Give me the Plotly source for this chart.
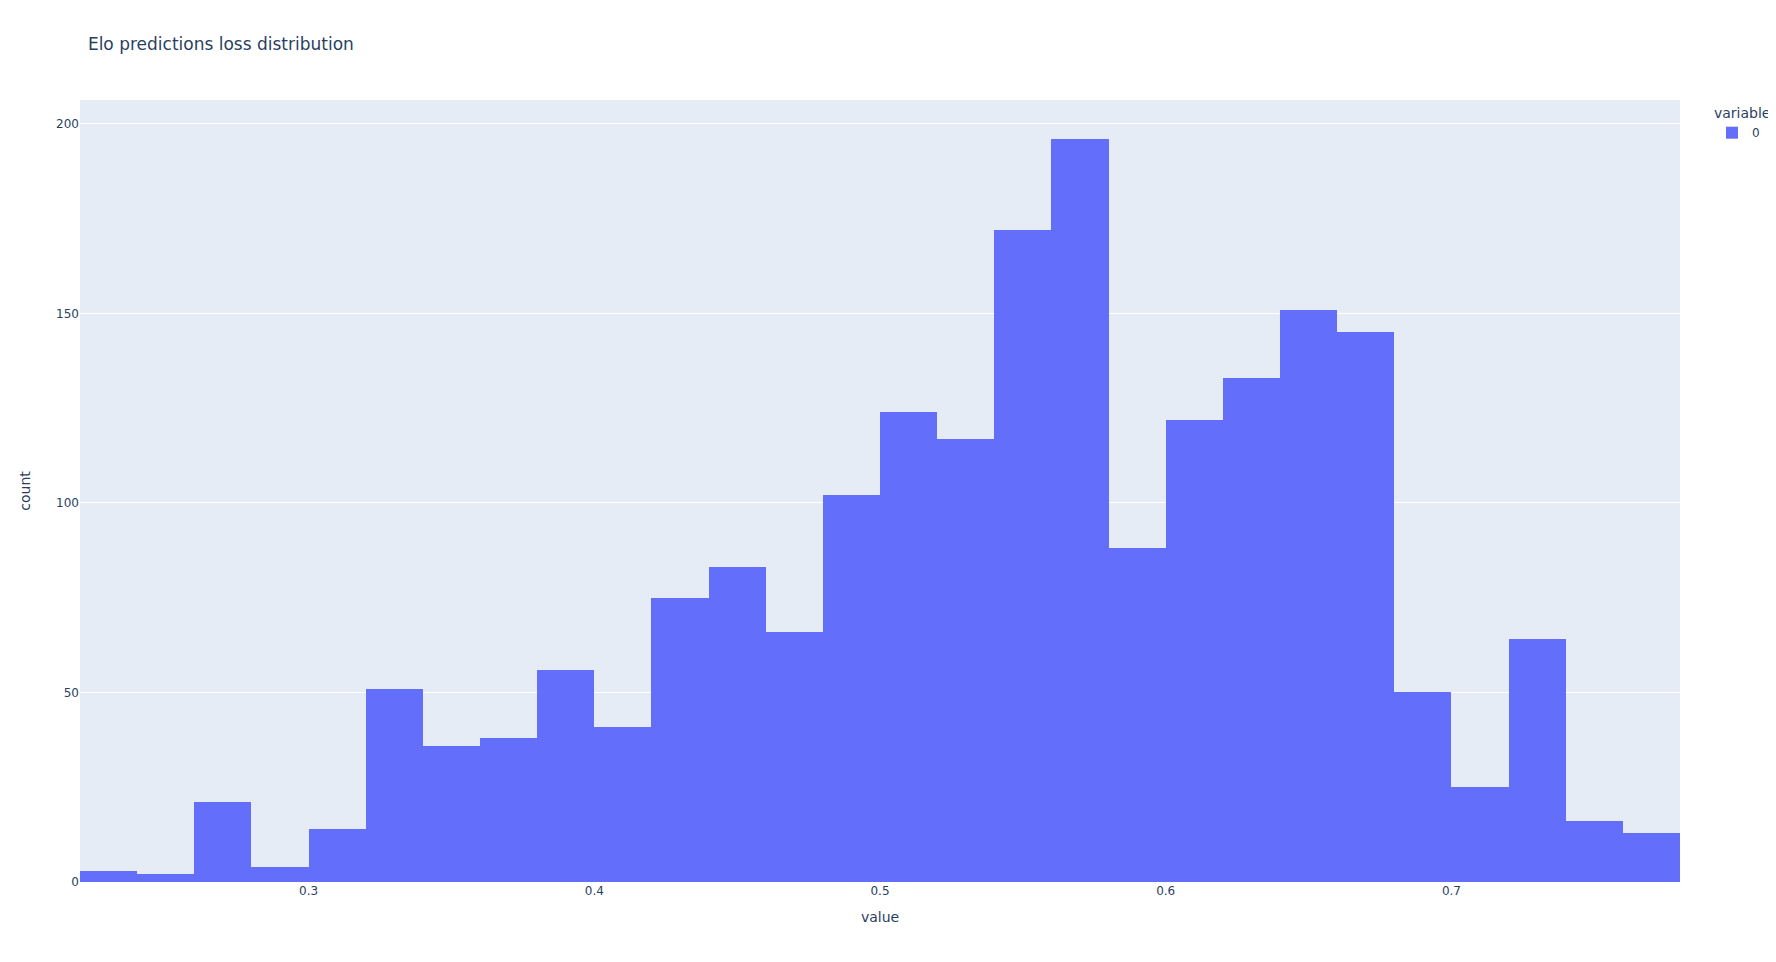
import plotly.graph_objects as go

bin_starts = [0.22, 0.24, 0.26, 0.28, 0.30, 0.32, 0.34, 0.36, 0.38, 0.40,
              0.42, 0.44, 0.46, 0.48, 0.50, 0.52, 0.54, 0.56, 0.58, 0.60,
              0.62, 0.64, 0.66, 0.68, 0.70, 0.72, 0.74, 0.76]
counts = [3, 2, 21, 4, 14, 51, 36, 38, 56, 41,
          75, 83, 66, 102, 124, 117, 172, 196, 88, 122,
          133, 151, 145, 50, 25, 64, 16, 13]
bin_width = 0.02

fig = go.Figure()
fig.add_trace(go.Bar(
    x=bin_starts, y=counts, width=[bin_width] * len(counts), offset=0,
    name="0", legendgroup="0", showlegend=True,
    marker=dict(color="#636efa", line=dict(width=0)),
))
fig.update_layout(
    template="plotly",
    width=1776, height=962,
    margin=dict(l=72, r=104, t=92, b=88, autoexpand=False),
    font=dict(family="DejaVu Sans"),
    title=dict(text="Elo predictions loss distribution", x=0.045, xanchor="left",
               xref="container", yref="container", y=1 - 36 / 962, yanchor="middle"),
    xaxis=dict(title=dict(text="value"), range=[0.22, 0.78]),
    yaxis=dict(title=dict(text="count", standoff=22)),
    legend=dict(title=dict(text="variable"), tracegroupgap=0),
    bargap=0,
)
fig.write_html("out.html")
